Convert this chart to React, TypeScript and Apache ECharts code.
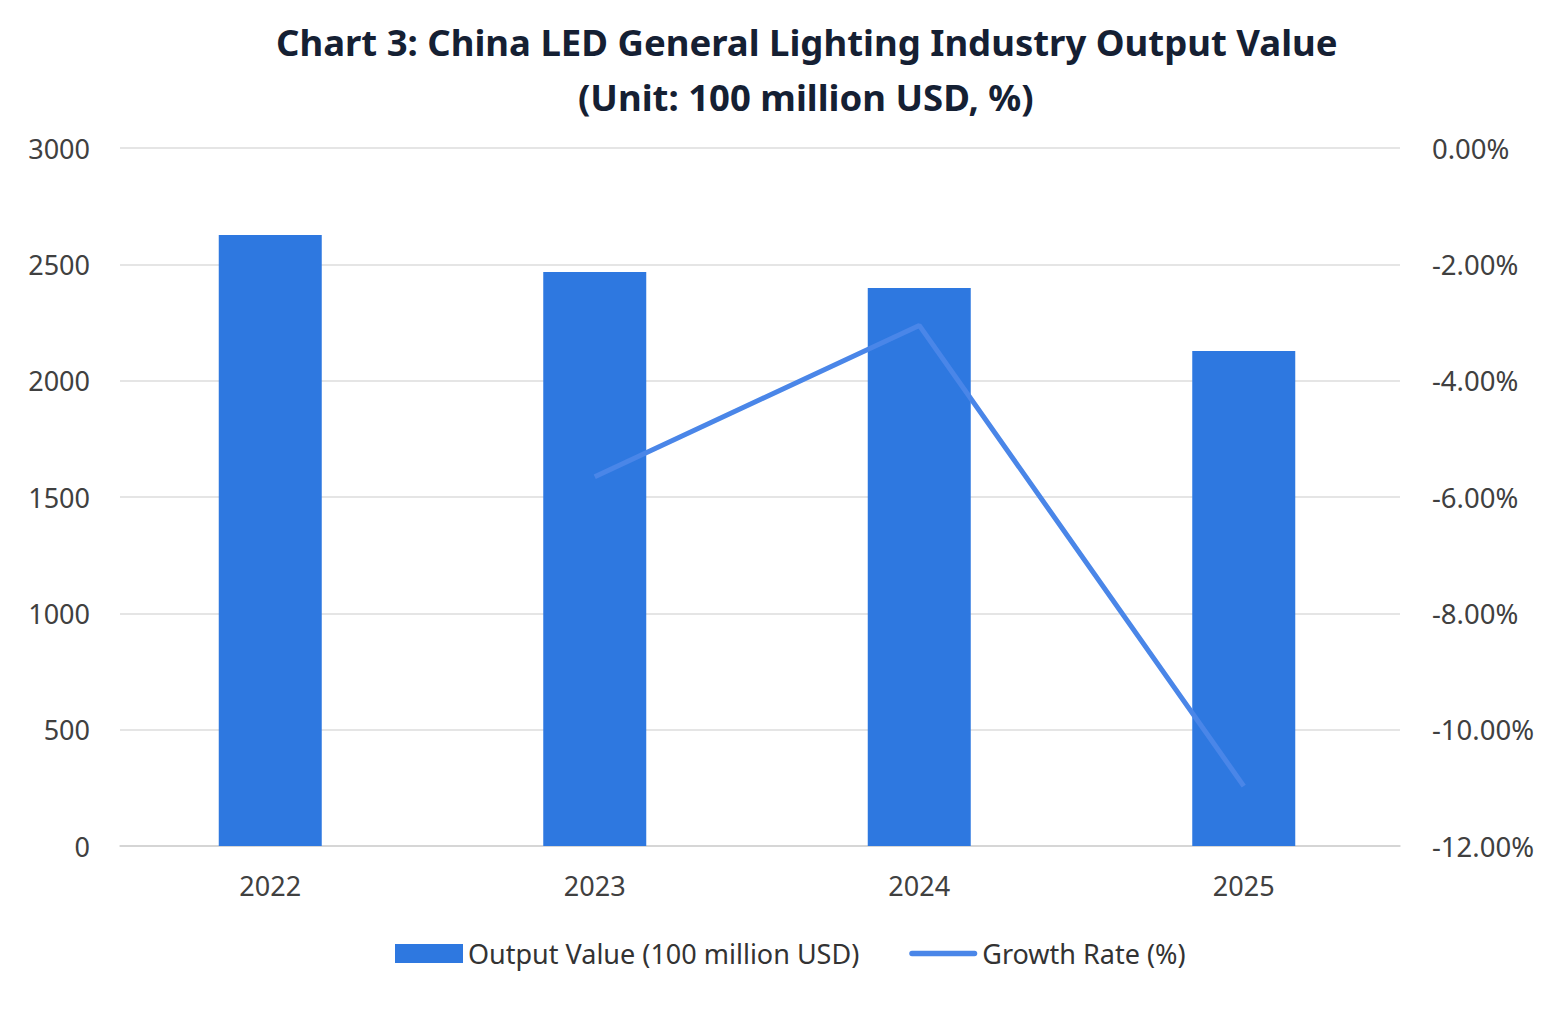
import React, { useEffect, useRef } from "react";
import * as echarts from "echarts";

const categories = ["2022", "2023", "2024", "2025"];
const outputValues = [2626, 2467, 2398, 2127];
const growthRates = [null, -5.65, -3.05, -10.97];
const leftTicks = [0, 500, 1000, 1500, 2000, 2500, 3000];
const rightTicks = [0, -2, -4, -6, -8, -10, -12];

const FONT = "'Noto Sans', 'Open Sans', sans-serif";
const LABEL_COLOR = "#404040";

const titleStyle = {
  fontFamily: FONT,
  fontSize: 36.5,
  fontWeight: "bold",
  color: "#152033",
  lineHeight: 55,
};

export default function App() {
  const ref = useRef<HTMLDivElement>(null);
  useEffect(() => {
    document.body.style.margin = "0";
    if (!ref.current) return;
    const chart = echarts.init(ref.current, undefined, { renderer: "svg" });
    const leftMin = leftTicks[0];
    const leftMax = leftTicks[leftTicks.length - 1];
    const rightMin = rightTicks[rightTicks.length - 1];
    const rightMax = rightTicks[0];
    chart.setOption({
      animation: false,
      backgroundColor: "#ffffff",
      textStyle: { fontFamily: FONT },
      title: [
        {
          text: "Chart 3: China LED General Lighting Industry Output Value",
          left: 276,
          top: 14,
          padding: 0,
          textStyle: titleStyle,
        },
        {
          text: "(Unit: 100 million USD, %)",
          left: 578,
          top: 69,
          padding: 0,
          textStyle: titleStyle,
        },
      ],
      legend: {
        bottom: 40,
        left: 390,
        itemGap: 50,
        itemWidth: 68,
        itemHeight: 19,
        textStyle: { fontSize: 27, color: "#333", fontFamily: FONT },
        data: [
          { name: "Output Value (100 million USD)", icon: "rect" },
          {
            name: "Growth Rate (%)",
            icon: "path://M4,0 H96 A4,4 0 0 1 96,8 H4 A4,4 0 0 1 4,0 Z",
          },
        ],
      },
      grid: [
        { left: 120, right: 155, top: 148, bottom: 166, containLabel: false },
        { left: 108, right: 149, top: 148, bottom: 166, containLabel: false },
      ],
      xAxis: [
        {
          type: "category",
          gridIndex: 0,
          data: categories,
          axisLine: { show: true, lineStyle: { color: "#d0d0d0", width: 1.5 } },
          axisTick: { show: false },
          axisLabel: { show: false },
        },
        {
          type: "category",
          gridIndex: 1,
          data: categories,
          axisLine: { show: false },
          axisTick: { show: false },
          axisLabel: { fontSize: 27, color: LABEL_COLOR, margin: 26, fontFamily: FONT },
        },
      ],
      yAxis: [
        {
          type: "value",
          gridIndex: 0,
          min: leftMin,
          max: leftMax,
          interval: 500,
          axisLine: { show: false },
          axisTick: { show: false },
          axisLabel: {
            fontSize: 27,
            color: LABEL_COLOR,
            margin: 30,
            fontFamily: FONT,
            formatter: (v: number) => String(v),
          },
          splitLine: { lineStyle: { color: "#dcdcdc", width: 1.5 } },
        },
        {
          type: "value",
          gridIndex: 0,
          position: "right",
          min: rightMin,
          max: rightMax,
          interval: 2,
          axisLine: { show: false },
          axisTick: { show: false },
          splitLine: { show: false },
          axisLabel: {
            fontSize: 27.5,
            color: LABEL_COLOR,
            margin: 32,
            fontFamily: FONT,
            formatter: (v: number) => v.toFixed(2) + "%",
          },
        },
        {
          type: "value",
          gridIndex: 1,
          min: leftMin,
          max: leftMax,
          show: false,
          splitLine: { show: false },
        },
        {
          type: "value",
          gridIndex: 1,
          position: "right",
          min: rightMin,
          max: rightMax,
          show: false,
          splitLine: { show: false },
        },
      ],
      series: [
        {
          name: "Output Value (100 million USD)",
          type: "bar",
          xAxisIndex: 1,
          yAxisIndex: 2,
          data: outputValues,
          barWidth: 103,
          itemStyle: { color: "#2E78E0" },
        },
        {
          name: "Growth Rate (%)",
          type: "line",
          xAxisIndex: 1,
          yAxisIndex: 3,
          data: growthRates,
          symbol: "none",
          lineStyle: { color: "#4A86E8", width: 5 },
          itemStyle: { color: "#4A86E8" },
        },
      ],
    });
    return () => chart.dispose();
  }, []);
  return <div ref={ref} style={{ width: 1555, height: 1012 }} />;
}
